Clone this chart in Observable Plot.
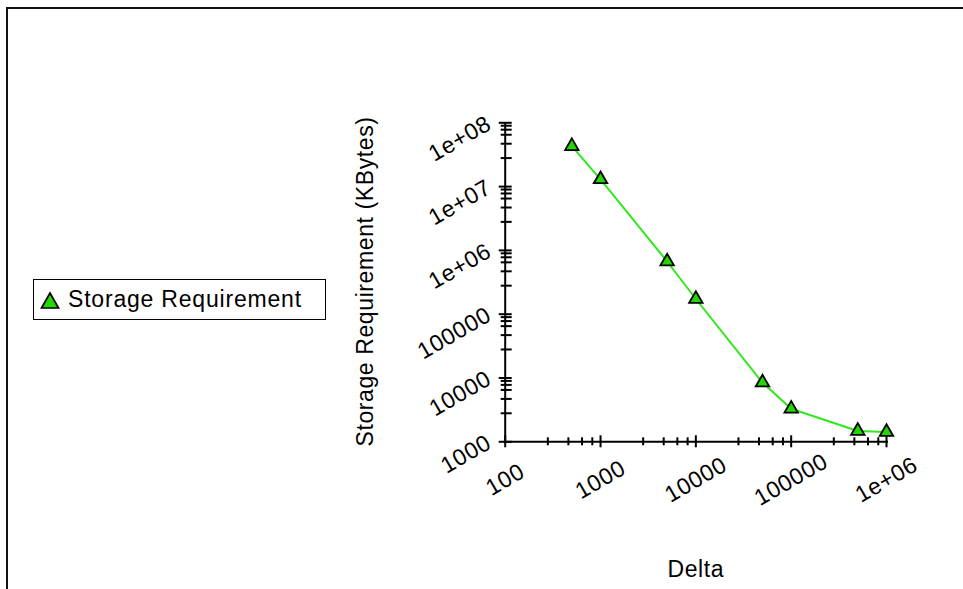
<!DOCTYPE html>
<html>
<head>
<meta charset="utf-8">
<script src="https://cdn.jsdelivr.net/npm/d3@7"></script>
<script src="https://cdn.jsdelivr.net/npm/@observablehq/plot@0.6"></script>
<style>
  body { margin: 0; background: #fff; }
  #wrap { position: relative; width: 963px; height: 589px; overflow: hidden;
          font-family: "Liberation Sans", Arial, Helvetica, sans-serif; }
  #frame { position: absolute; left: 6px; top: 7px; width: 1000px; height: 620px;
           border-top: 2px solid #111; border-left: 2px solid #111; }
  #chart { position: absolute; left: 0; top: 0; }
  #legend { position: absolute; left: 33px; top: 279px; width: 291px; height: 39px;
            border: 1.5px solid #000; background: #fff; display: flex; align-items: center; }
  #legend svg { margin-left: 6px; }
  #legend span { margin-left: 8px; font-size: 23px; letter-spacing: 0.8px; color: #000; }
</style>
</head>
<body>
<div id="wrap">
  <div id="frame"></div>
  <div id="chart"></div>
  <div id="legend">
    <svg width="20" height="20" viewBox="-10 -11 20 20">
      <path d="M0,-8L8.5,7L-8.5,7Z" fill="#22d800" stroke="#000" stroke-width="1.7" stroke-linejoin="miter"></path>
    </svg>
    <span>Storage Requirement</span>
  </div>
</div>
<script>
// Storage needed for each Delta setting
const delta = [500, 1000, 5000, 10000, 50000, 100000, 500000, 1000000];
const storageKB = [4.3e7, 1.3e7, 6.7e5, 1.73e5, 8500, 3300, 1480, 1420];

// Axis decades and their printed labels
const xTicks = [100, 1000, 10000, 100000, 1000000];
const xTickLabels = ["100", "1000", "10000", "100000", "1e+06"];
const yTicks = [1000, 10000, 100000, 1e6, 1e7, 1e8];
const yTickLabels = ["1000", "10000", "100000", "1e+06", "1e+07", "1e+08"];

// Minor tick multipliers inside each decade
const xMinorSteps = [2.8, 4.6, 6.4, 8.2];
const yMinorSteps = [2.8, 4.7, 6.5, 7.8, 9.0];

const data = delta.map((d, i) => ({delta: d, storage: storageKB[i]}));
const minorOf = (majors, steps) =>
  majors.slice(0, -1).flatMap(m => steps.map(s => m * s));
const xMinor = minorOf(xTicks, xMinorSteps);
const yMinor = minorOf(yTicks, yMinorSteps);

const xMin = xTicks[0], xMax = xTicks[xTicks.length - 1];
const yMin = yTicks[0], yMax = yTicks[yTicks.length - 1];

const chart = Plot.plot({
  width: 963,
  height: 589,
  marginLeft: 504.7,
  marginRight: 77,
  marginTop: 122.3,
  marginBottom: 147.7,
  x: {type: "log", domain: [xMin, xMax], axis: null},
  y: {type: "log", domain: [yMin, yMax], axis: null},
  style: {
    fontFamily: '"Liberation Sans", Arial, Helvetica, sans-serif',
    background: "transparent",
    color: "#000",
    overflow: "visible",
    letterSpacing: "0.6px"
  },
  marks: [
    // axis lines
    Plot.ruleY([yMin], {x1: xMin, x2: xMax, stroke: "#000", strokeWidth: 2, insetLeft: -1, insetRight: -2}),
    Plot.ruleX([xMin], {y1: yMin, y2: yMax, stroke: "#000", strokeWidth: 2, insetTop: -1, insetBottom: -1}),
    // y ticks crossing the axis
    Plot.ruleY(yTicks, {y: d => d, x1: xMin, x2: xMin, stroke: "#000", strokeWidth: 2, insetLeft: -6, insetRight: -7}),
    Plot.ruleY(yMinor, {y: d => d, x1: xMin, x2: xMin, stroke: "#000", strokeWidth: 2, insetLeft: -4, insetRight: -7}),
    // x ticks crossing the axis
    Plot.ruleX(xTicks, {x: d => d, y1: yMin, y2: yMin, stroke: "#000", strokeWidth: 2, insetTop: -6, insetBottom: -6}),
    Plot.ruleX(xMinor, {x: d => d, y1: yMin, y2: yMin, stroke: "#000", strokeWidth: 2, insetTop: -4, insetBottom: -4}),
    // slanted tick labels
    Plot.text(yTicks, {
      x: xMin, y: d => d, text: (d, i) => yTickLabels[i],
      rotate: -30, textAnchor: "end", fontSize: 23, dx: -16, dy: -1, fill: "#000"
    }),
    Plot.text(xTicks, {
      x: d => d, y: yMin, text: (d, i) => xTickLabels[i],
      rotate: -30, textAnchor: "middle", fontSize: 23, dx: 0, dy: 38, fill: "#000"
    }),
    // axis titles
    Plot.text(["Storage Requirement (KBytes)"], {
      frameAnchor: "left", rotate: -90, textAnchor: "middle", lineAnchor: "bottom",
      dx: -132.5, dy: -0.8, fontSize: 23, fill: "#000"
    }),
    Plot.text(["Delta"], {
      frameAnchor: "bottom", textAnchor: "middle", lineAnchor: "bottom",
      dy: 134.7, fontSize: 23, fill: "#000"
    }),
    // series
    Plot.line(data, {x: "delta", y: "storage", stroke: "#30e81c", strokeWidth: 2}),
    Plot.dot(data, {
      x: "delta", y: "storage", symbol: "triangle", r: 5,
      fill: "#22d800", stroke: "#000", strokeWidth: 1.8
    })
  ]
});

document.getElementById("chart").appendChild(chart);
</script>
</body>
</html>
